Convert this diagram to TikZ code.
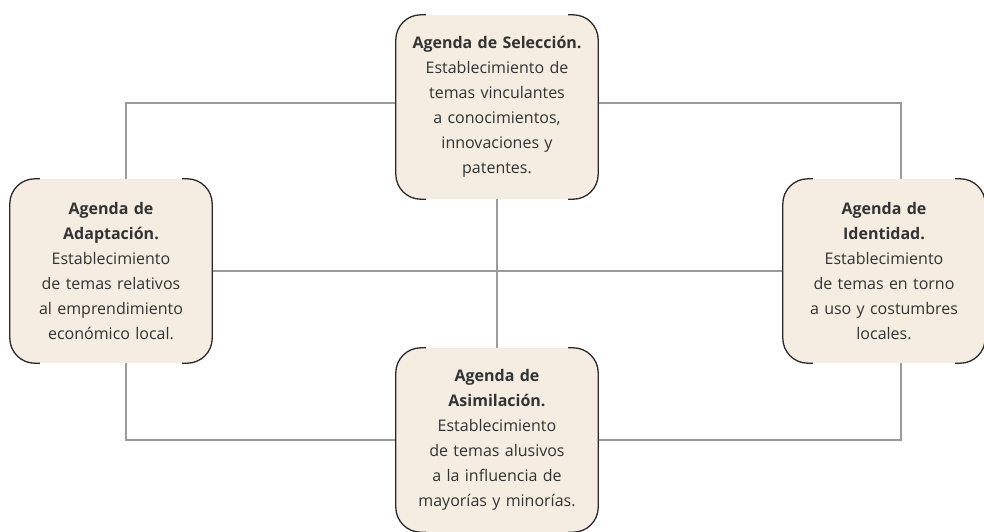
\documentclass[tikz,border=0pt]{standalone}
\usepackage{fontspec}
\setmainfont{Open Sans}
\begin{document}
\begin{tikzpicture}
[x=1pt,y=-1pt,
  agendabox/.style={shape=rectangle,rounded corners=25pt,fill=boxfill,
    minimum width=202pt,minimum height=184pt,inner sep=0pt,
    text width=200pt,align=center,text=textgray,
    font=\fontsize{16}{25}\selectfont},%
  boxline/.style={draw=edgedark,line width=1.3pt,rounded corners=25pt},%
  linkline/.style={-,draw=linkgray,line width=2.7pt}]
\definecolor{boxfill}{HTML}{F5EDE1}
\definecolor{edgedark}{HTML}{2A2A2A}
\definecolor{textgray}{HTML}{333333}
\definecolor{linkgray}{HTML}{9A9A9F}
\useasboundingbox (0,0) rectangle (984,531);
%% columns and row of the connectors
\coordinate (selrow) at (0,103);
\coordinate (adaptcol) at (126,0);
\coordinate (identcol) at (901,0);
%% boxes
\foreach \nodename/\x/\y/\title/\body in {
  sel/497/107/{Agenda de Selección.}/{Establecimiento de\\temas vinculantes\\a conocimientos,\\innovaciones y\\patentes.},
  adapt/111/271/{Agenda de\\Adaptación.}/{Establecimiento\\de temas relativos\\al emprendimiento\\económico local.},
  ident/884/271/{Agenda de\\Identidad.}/{Establecimiento\\de temas en torno\\a uso y costumbres\\locales.},
  asim/497/440/{Agenda de\\Asimilación.}/{Establecimiento\\de temas alusivos\\a la influencia de\\mayorías y minorías.}}
{
  \node (\nodename) at (\x,\y) [agendabox] {\textbf{\title}\\\body};
}
%% edges or lines
\path[linkline] (adapt.north -| adaptcol) |- (sel.west |- selrow);
\path[linkline] (sel.east |- selrow) -| (ident.north -| identcol);
\path[linkline] (adapt.east) -- (ident.west);
\path[linkline] (sel.south) -- (asim.north);
\path[linkline] (adapt.south -| adaptcol) |- (asim.west);
\path[linkline] (asim.east) -| (ident.south -| identcol);
%% bracket outlines of the boxes
\foreach \nodename in {sel, adapt, ident, asim}
{
  \draw[boxline] ([xshift=30pt]\nodename.north west) -- (\nodename.north west)
    -- (\nodename.south west) -- ([xshift=30pt]\nodename.south west);
  \draw[boxline] ([xshift=-30pt]\nodename.north east) -- (\nodename.north east)
    -- (\nodename.south east) -- ([xshift=-30pt]\nodename.south east);
}
\end{tikzpicture}
\end{document}
